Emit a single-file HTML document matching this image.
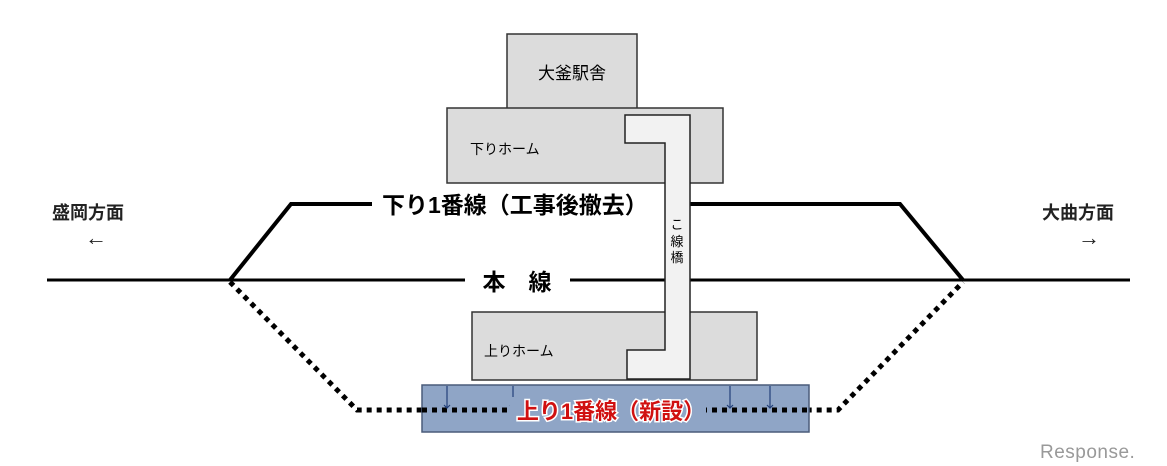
<!DOCTYPE html>
<html><head><meta charset="utf-8"><style>
html,body{margin:0;padding:0;background:#fff;}
svg{display:block}
text{font-family:"Liberation Sans","Noto Sans CJK JP",sans-serif;}
</style></head><body>
<svg width="1167" height="466" viewBox="0 0 1167 466" xmlns="http://www.w3.org/2000/svg">
<line x1="47" y1="280" x2="465" y2="280" stroke="#000" stroke-width="3"/>
<line x1="570" y1="280" x2="1130" y2="280" stroke="#000" stroke-width="3"/>
<text x="517" y="290" font-size="23" font-weight="bold" text-anchor="middle">本　線</text>
<polyline points="230,280 291,204 372,204" fill="none" stroke="#000" stroke-width="4"/>
<polyline points="690,204 900,204 963,280" fill="none" stroke="#000" stroke-width="4"/>
<text x="382" y="213" font-size="23" font-weight="bold">下り1番線（工事後撤去）</text>
<polyline points="230,282 357,410 838,410 963,282" fill="none" stroke="#000" stroke-width="5" stroke-dasharray="5,5"/>
<rect x="507" y="34" width="130" height="75" fill="#dcdcdc" stroke="#333" stroke-width="1.5"/>
<text x="572" y="79" font-size="17" text-anchor="middle">大釜駅舎</text>
<rect x="447" y="108" width="276" height="75" fill="#dcdcdc" stroke="#333" stroke-width="1.5"/>
<text x="470" y="154" font-size="14">下りホーム</text>
<rect x="472" y="312" width="285" height="68" fill="#dcdcdc" stroke="#333" stroke-width="1.5"/>
<text x="484" y="356" font-size="14">上りホーム</text>
<rect x="422" y="385" width="387" height="47" fill="#8fa5c6" stroke="#4a5c7a" stroke-width="1.5"/>
<line x1="422" y1="410" x2="809" y2="410" stroke="#000" stroke-width="5" stroke-dasharray="5,5"/>
<g stroke="#23407a" stroke-width="1.2" fill="none">
<path d="M447,386 v22 M444,405 l3,3 l3,-3"/>
<path d="M513,386 v22 M510,405 l3,3 l3,-3"/>
<path d="M730,386 v22 M727,405 l3,3 l3,-3"/>
<path d="M770,386 v22 M767,405 l3,3 l3,-3"/>
</g>
<rect x="510" y="397" width="196" height="26" fill="#8fa5c6"/>
<text x="611" y="419" font-size="22" font-weight="bold" fill="#d01010" stroke="#fff" stroke-width="3" paint-order="stroke" text-anchor="middle">上り1番線（新設）</text>
<path d="M625,115 H690 V379 H627 V350 H665 V143 H625 Z" fill="#f2f2f2" stroke="#222" stroke-width="1.5"/>
<text x="677" y="229" font-size="13" text-anchor="middle">こ</text>
<text x="677" y="246" font-size="13" text-anchor="middle">線</text>
<text x="677" y="262" font-size="13" text-anchor="middle">橋</text>
<text x="52" y="219" font-size="18" font-weight="bold" fill="#222">盛岡方面</text>
<text x="96" y="245" font-size="22" fill="#222" text-anchor="middle">←</text>
<text x="1042" y="219" font-size="18" font-weight="bold" fill="#222">大曲方面</text>
<text x="1089" y="245" font-size="22" fill="#222" text-anchor="middle">→</text>
<text x="1040" y="458" font-size="19" fill="#999" letter-spacing="0.5">Response.</text>
</svg>
</body></html>
